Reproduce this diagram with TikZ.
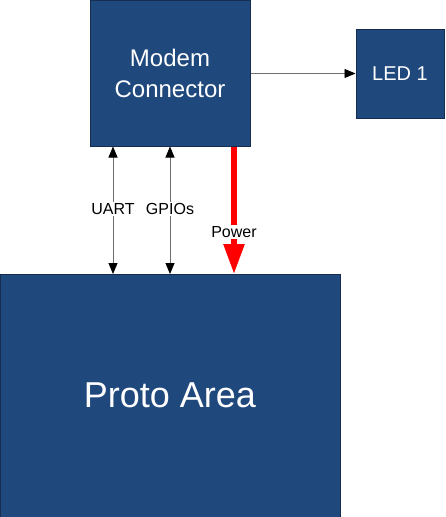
\documentclass[tikz,border=0pt]{standalone}
\usepackage{fontspec}
\setmainfont{Liberation Sans}
\usetikzlibrary{arrows.meta}
\definecolor{boxfill}{RGB}{31,72,124}
\definecolor{boxline}{RGB}{22,45,80}
\definecolor{shaft}{RGB}{110,110,110}
\definecolor{pwr}{RGB}{255,0,0}
\tikzset{
  block/.style={draw=boxline, line width=1pt, fill=boxfill, text=white, align=center, inner sep=0pt},
  sig/.style={draw=shaft, line width=0.9pt, {Triangle[length=11pt,width=9pt,color=black]}-{Triangle[length=11pt,width=9pt,color=black]}},
  sigone/.style={draw=shaft, line width=0.9pt, -{Triangle[length=11pt,width=9pt,color=black]}},
  power/.style={draw=pwr, line width=5.5pt, -{Triangle[length=30pt,width=20pt]}},
  lbl/.style={fill=white, inner sep=1pt, font=\fontsize{16}{18}\selectfont}
}
\begin{document}
\begin{tikzpicture}[x=1pt,y=-1pt]
\useasboundingbox (0,0) rectangle (445,517);
\node[block, minimum width=160pt, minimum height=146pt, font=\fontsize{24}{31}\selectfont] (modem) at (170,73.5) {Modem\\Connector};
\node[block, minimum width=88pt, minimum height=89pt, font=\fontsize{20}{24}\selectfont] (led) at (400,73.5) {LED 1};
\node[block, minimum width=340pt, minimum height=243pt, font=\fontsize{36}{40}\selectfont] (proto) at (170,395.5) {Proto Area};
\draw[sigone] (modem.east) -- (led.west);
\coordinate (u1) at (113,146.5);
\coordinate (u2) at (113,274);
\coordinate (g1) at (170,146.5);
\coordinate (g2) at (170,274);
\coordinate (p1) at (234,146.5);
\coordinate (p2) at (234,274);
\draw[sig] (u1) -- (u2) node[lbl, pos=0.49] (uart) {UART};
\draw[sig] (g1) -- (g2) node[lbl, pos=0.49] (gpio) {GPIOs};
\draw[power] (p1) -- (p2);
\node[lbl, inner sep=1.5pt] (pl) at (234,232) {Power};
\end{tikzpicture}
\end{document}
